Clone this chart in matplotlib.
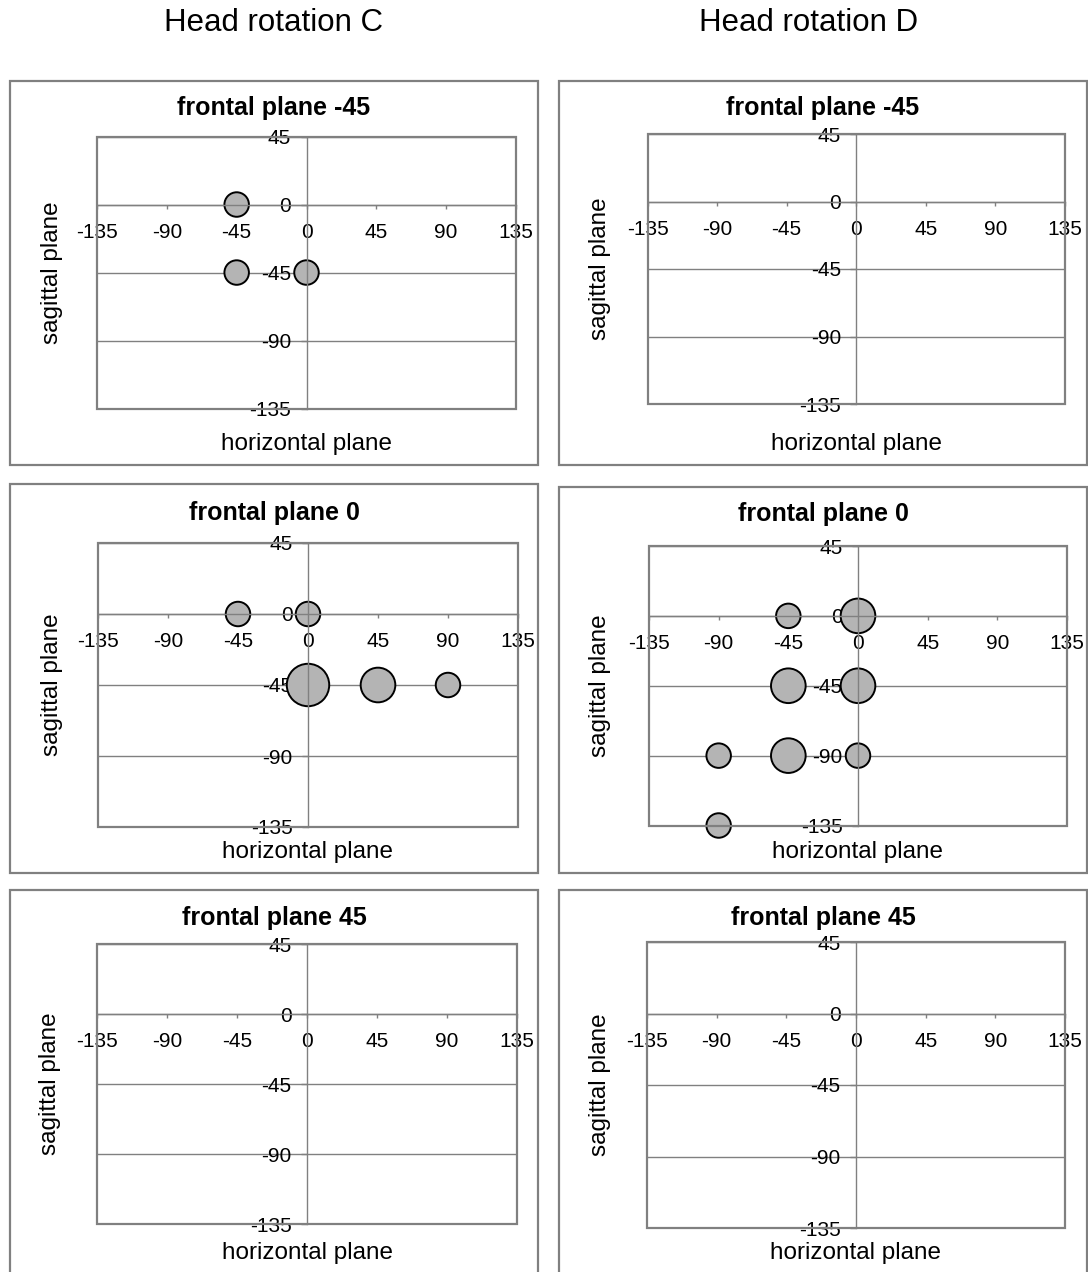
import matplotlib
matplotlib.use('Agg')
import matplotlib.pyplot as plt
from matplotlib.patches import Rectangle

plt.rcParams['font.family'] = ['Liberation Sans', 'DejaVu Sans']

W, H = 1088, 1272

# bubble positions (horizontal plane, sagittal plane) and counts per panel
c_m45_x = [-45, -45, 0]
c_m45_y = [0, -45, -45]
c_m45_n = [1, 1, 1]

c_0_x = [-45, 0, 0, 45, 90]
c_0_y = [0, 0, -45, -45, -45]
c_0_n = [1, 1, 3, 2, 1]

c_45_x, c_45_y, c_45_n = [], [], []

d_m45_x, d_m45_y, d_m45_n = [], [], []

d_0_x = [-45, 0, -45, 0, -90, -45, 0, -90]
d_0_y = [0, 0, -45, -45, -90, -90, -90, -135]
d_0_n = [1, 2, 2, 2, 1, 2, 1, 1]

d_45_x, d_45_y, d_45_n = [], [], []

x_ticks = [-135, -90, -45, 0, 45, 90, 135]
y_ticks = [45, 0, -45, -90, -135]

column_titles = ['Head rotation C', 'Head rotation D']

GRAY = '#808080'
BUBBLE = '#b4b4b4'
BASE_D = 24.5  # bubble diameter in px for a count of 1

# (title, data, plot area px, outer box px, title y, x-label y, y-label x)
panels = [
    ('frontal plane -45', (c_m45_x, c_m45_y, c_m45_n),
     (97, 136.5, 516, 408.6), (10, 81, 538, 465), 108, 444, 52),
    ('frontal plane -45', (d_m45_x, d_m45_y, d_m45_n),
     (647.5, 134, 1065, 404), (559, 81, 1087, 465), 108, 444, 600),
    ('frontal plane 0', (c_0_x, c_0_y, c_0_n),
     (98, 543, 518, 827), (10, 484, 538, 873), 513, 852, 52),
    ('frontal plane 0', (d_0_x, d_0_y, d_0_n),
     (649, 546, 1067, 825.5), (559, 487, 1087, 873), 514, 852, 600),
    ('frontal plane 45', (c_45_x, c_45_y, c_45_n),
     (97, 944, 517, 1224), (10, 890, 538, 1295), 918, 1253, 50),
    ('frontal plane 45', (d_45_x, d_45_y, d_45_n),
     (647, 942, 1065, 1228), (559, 890, 1087, 1295), 918, 1253, 600),
]


def fx(x):
    return x / W


def fy(y):
    return 1 - y / H


fig = plt.figure(figsize=(W / 100, H / 100), dpi=100)
fig.patch.set_facecolor('white')

fig.text(fx(274), fy(23), column_titles[0], fontsize=22.5, ha='center', va='center')
fig.text(fx(809), fy(23), column_titles[1], fontsize=22.5, ha='center', va='center')

for title, (xs, ys, ns), (x0, y0, x1, y1), (bx0, by0, bx1, by1), ty, hy, sx in panels:
    # chart frame
    fig.add_artist(Rectangle((fx(bx0), fy(by1)), fx(bx1 - bx0), (by1 - by0) / H,
                             transform=fig.transFigure, fill=False,
                             edgecolor=GRAY, linewidth=1.6))

    ax = fig.add_axes([fx(x0), fy(y1), fx(x1 - x0), (y1 - y0) / H])
    ax.set_xlim(-135, 135)
    ax.set_ylim(-135, 45)

    # axes cross at the origin
    ax.spines['bottom'].set_position(('data', 0))
    ax.spines['left'].set_position(('data', 0))
    ax.spines['top'].set_visible(False)
    ax.spines['right'].set_visible(False)
    for side in ('bottom', 'left'):
        ax.spines[side].set_color(GRAY)
        ax.spines[side].set_linewidth(1.0)

    ax.add_patch(Rectangle((0, 0), 1, 1, transform=ax.transAxes, fill=False,
                           edgecolor=GRAY, linewidth=1.6, clip_on=False, zorder=3))

    ax.set_xticks(x_ticks)
    ax.set_yticks(y_ticks)
    ax.set_xticklabels([str(v) for v in x_ticks])
    ax.set_yticklabels([str(v) for v in y_ticks])
    ax.tick_params(axis='x', direction='out', length=3, width=1, color=GRAY,
                   labelsize=15, pad=10)
    ax.tick_params(axis='y', direction='out', length=4, width=1, color=GRAY,
                   labelsize=15, pad=7)
    ax.grid(axis='y', color=GRAY, linewidth=1.0)
    ax.set_axisbelow(True)

    if xs:
        sizes = [(BASE_D * 0.72) ** 2 * n for n in ns]
        ax.scatter(xs, ys, s=sizes, c=BUBBLE, edgecolors='black',
                   linewidths=1.4, clip_on=False, zorder=2)

    fig.text(fx((bx0 + bx1) / 2), fy(ty), title, fontsize=18,
             fontweight='bold', ha='center', va='center')
    fig.text(fx((x0 + x1) / 2), fy(hy), 'horizontal plane', fontsize=17.5,
             ha='center', va='center')
    fig.text(fx(sx), fy((y0 + y1) / 2), 'sagittal plane', fontsize=17.5,
             rotation=90, ha='center', va='center')

plt.savefig('out.png', dpi=100)
plt.close()
